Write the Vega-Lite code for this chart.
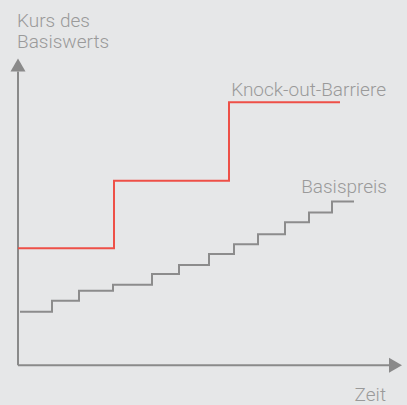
{
  "$schema": "https://vega.github.io/schema/vega-lite/v6.json",
  "width": 407,
  "height": 405,
  "autosize": {"type": "fit", "contains": "padding"},
  "padding": 0,
  "background": "#e6e7e8",
  "config": {"view": {"stroke": null}},
  "datasets": {
    "basispreis": [
      {"zeit": 2, "kurs": 54}, {"zeit": 34, "kurs": 65}, {"zeit": 61, "kurs": 75},
      {"zeit": 95, "kurs": 81}, {"zeit": 134, "kurs": 92}, {"zeit": 161, "kurs": 101},
      {"zeit": 191, "kurs": 112}, {"zeit": 216, "kurs": 122}, {"zeit": 240, "kurs": 132},
      {"zeit": 267, "kurs": 144}, {"zeit": 291, "kurs": 154}, {"zeit": 314, "kurs": 165},
      {"zeit": 336, "kurs": 165}
    ],
    "barriere": [
      {"zeit": 0, "kurs": 118}, {"zeit": 96, "kurs": 186}, {"zeit": 211, "kurs": 265}, {"zeit": 322, "kurs": 265}
    ],
    "achsen": [
      {"achse": "y", "x1": 0, "x2": 0, "y1": 0, "y2": 296},
      {"achse": "x", "x1": 0, "x2": 371, "y1": 0, "y2": 0}
    ],
    "pfeile": [
      {"achse": "y", "x": 0, "y": 302.5, "form": "triangle-up"},
      {"achse": "x", "x": 377.5, "y": 0, "form": "triangle-right"}
    ],
    "labels": [
      {"text": "Knock-out-Barriere", "x": 368, "y": 271},
      {"text": "Basispreis", "x": 369, "y": 174},
      {"text": "Zeit", "x": 368, "y": -36}
    ],
    "ylabel": [
      {"text": "Kurs des\nBasiswerts", "x": -1, "y": 341}
    ]
  },
  "resolve": {"scale": {"x": "shared", "y": "shared"}},
  "layer": [
    {
      "data": {"name": "achsen"},
      "mark": {"type": "rule", "color": "#8a8a8a", "strokeWidth": 2},
      "encoding": {
        "x": {"field": "x1", "type": "quantitative", "scale": {"domain": [-18, 389], "nice": false, "zero": false}, "axis": null},
        "x2": {"field": "x2"},
        "y": {"field": "y1", "type": "quantitative", "scale": {"domain": [-37, 368], "nice": false, "zero": false}, "axis": null},
        "y2": {"field": "y2"}
      }
    },
    {
      "data": {"name": "pfeile"},
      "mark": {"type": "point", "filled": true, "size": 225, "color": "#8a8a8a", "opacity": 1},
      "encoding": {
        "x": {"field": "x", "type": "quantitative"},
        "y": {"field": "y", "type": "quantitative"},
        "shape": {"field": "form", "type": "nominal", "scale": null}
      }
    },
    {
      "data": {"name": "barriere"},
      "mark": {"type": "line", "interpolate": "step-after", "color": "#ee5047", "strokeWidth": 2},
      "encoding": {
        "x": {"field": "zeit", "type": "quantitative"},
        "y": {"field": "kurs", "type": "quantitative"}
      }
    },
    {
      "data": {"name": "basispreis"},
      "mark": {"type": "line", "interpolate": "step-after", "color": "#8c8c8c", "strokeWidth": 2},
      "encoding": {
        "x": {"field": "zeit", "type": "quantitative"},
        "y": {"field": "kurs", "type": "quantitative"}
      }
    },
    {
      "data": {"name": "labels"},
      "mark": {"type": "text", "align": "right", "baseline": "alphabetic", "font": "Roboto", "fontWeight": 300, "fontSize": 19, "color": "#9a9a9a"},
      "encoding": {
        "x": {"field": "x", "type": "quantitative"},
        "y": {"field": "y", "type": "quantitative"},
        "text": {"field": "text"}
      }
    },
    {
      "data": {"name": "ylabel"},
      "mark": {"type": "text", "align": "left", "baseline": "alphabetic", "font": "Roboto", "fontWeight": 300, "fontSize": 19, "color": "#9a9a9a", "lineBreak": "\n", "lineHeight": 21},
      "encoding": {
        "x": {"field": "x", "type": "quantitative"},
        "y": {"field": "y", "type": "quantitative"},
        "text": {"field": "text"}
      }
    }
  ]
}
